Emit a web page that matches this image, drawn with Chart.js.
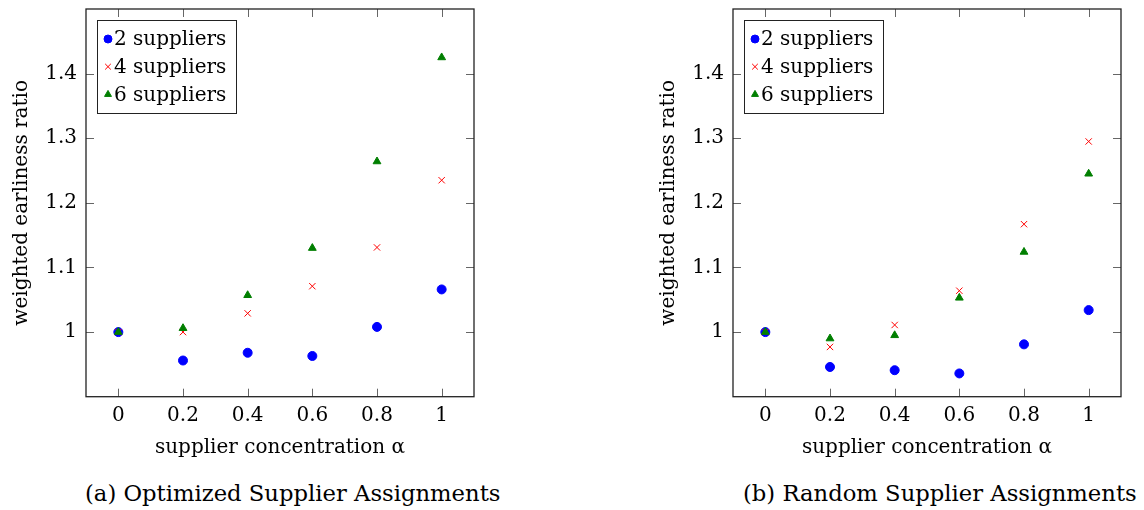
<!DOCTYPE html>
<html>
<head>
<meta charset="utf-8">
<script src="https://cdn.jsdelivr.net/npm/chart.js@4.4.0/dist/chart.umd.min.js"></script>
<style>
  body { margin: 0; background: #fff; width: 1144px; height: 510px; position: relative; overflow: hidden; }
  .plot { position: absolute; top: 0; width: 480px; height: 460px; }
  .caption { position: absolute; top: 480px; font: 22.7px "DejaVu Serif"; color: #000; white-space: nowrap; }
</style>
</head>
<body>
<div class="plot" style="left:0"><canvas id="chartA"></canvas></div>
<div class="plot" style="left:647px"><canvas id="chartB"></canvas></div>
<div class="caption" style="left:85px">(a) Optimized Supplier Assignments</div>
<div class="caption" style="left:743px">(b) Random Supplier Assignments</div>
<script>
// supplier concentration values
const alphas = [0, 0.2, 0.4, 0.6, 0.8, 1];
const seriesNames = ["2 suppliers", "4 suppliers", "6 suppliers"];

// (a) optimized assignments
const optTwo = [1.000, 0.956, 0.968, 0.963, 1.008, 1.066];
const optFour = [1.000, 1.000, 1.029, 1.071, 1.131, 1.235];
const optSix = [1.000, 1.006, 1.057, 1.130, 1.264, 1.425];

// (b) random assignments
const randTwo = [1.000, 0.946, 0.941, 0.936, 0.981, 1.034];
const randFour = [1.000, 0.977, 1.011, 1.064, 1.167, 1.295];
const randSix = [1.000, 0.990, 0.995, 1.053, 1.124, 1.245];

const xTicks = [0, 0.2, 0.4, 0.6, 0.8, 1];
const xTickLabels = ["0", "0.2", "0.4", "0.6", "0.8", "1"];
const yTicks = [1, 1.1, 1.2, 1.3, 1.4];
const yTickLabels = ["1", "1.1", "1.2", "1.3", "1.4"];

const font = { family: "DejaVu Serif", size: 20 };
const colors = ["#0000ff", "#ff0000", "#007f00"];
const styles = ["circle", "crossRot", "triangle"];
const radii = [4.5, 4.5, 4.5];

function marker(ctx, style, x, y, r, color) {
  ctx.save();
  ctx.fillStyle = color;
  ctx.strokeStyle = color;
  ctx.lineWidth = 1;
  ctx.beginPath();
  if (style === "circle") {
    ctx.arc(x, y, r, 0, Math.PI * 2);
    ctx.fill();
    ctx.stroke();
  } else if (style === "crossRot") {
    let d = r * Math.SQRT1_2;
    ctx.moveTo(x - d, y - d); ctx.lineTo(x + d, y + d);
    ctx.moveTo(x + d, y - d); ctx.lineTo(x - d, y + d);
    ctx.stroke();
  } else {
    for (let k = 0; k < 3; k++) {
      let a = k * 2 * Math.PI / 3;
      let px = x + Math.sin(a) * r, py = y - Math.cos(a) * r;
      if (k === 0) ctx.moveTo(px, py); else ctx.lineTo(px, py);
    }
    ctx.closePath();
    ctx.fill();
    ctx.stroke();
  }
  ctx.restore();
}

// box, inward ticks on all four sides and the legend
const framePlugin = {
  id: "frame",
  afterDatasetsDraw(chart) {
    const ctx = chart.ctx;
    const a = chart.chartArea;
    const xs = chart.scales.x, ys = chart.scales.y;
    const len = 8;
    ctx.save();
    ctx.strokeStyle = "#666";
    ctx.lineWidth = 1;
    ctx.beginPath();
    xs.ticks.forEach(t => {
      let px = Math.round(xs.getPixelForValue(t.value)) + 0.5;
      ctx.moveTo(px, a.bottom); ctx.lineTo(px, a.bottom - len);
      ctx.moveTo(px, a.top); ctx.lineTo(px, a.top + len);
    });
    ys.ticks.forEach(t => {
      let py = Math.round(ys.getPixelForValue(t.value)) + 0.5;
      ctx.moveTo(a.left, py); ctx.lineTo(a.left + len, py);
      ctx.moveTo(a.right, py); ctx.lineTo(a.right - len, py);
    });
    ctx.stroke();
    ctx.strokeStyle = "#222";
    ctx.lineWidth = 1.3;
    ctx.strokeRect(a.left, a.top, a.right - a.left, a.bottom - a.top);

    // legend
    const lx = a.left + 11, ly = a.top + 11;
    ctx.fillStyle = "#fff";
    ctx.fillRect(lx, ly, 139, 93);
    ctx.strokeStyle = "#222";
    ctx.lineWidth = 1;
    ctx.strokeRect(lx + 0.5, ly + 0.5, 139, 93);
    ctx.font = font.size + "px " + font.family;
    ctx.textBaseline = "middle";
    ctx.textAlign = "left";
    ctx.fillStyle = "#000";
    chart.data.datasets.forEach((ds, i) => {
      let cy = ly + 19 + i * 27.7;
      marker(ctx, styles[i], lx + 11, cy, 4, colors[i]);
      ctx.fillText(ds.label, lx + 17, cy + 1);
    });
    ctx.restore();
  }
};

function makeChart(id, two, four, six) {
  const values = [two, four, six];
  const datasets = values.map((vals, i) => ({
    label: seriesNames[i],
    data: alphas.map((x, j) => ({ x: x, y: vals[j] })),
    showLine: false,
    pointStyle: styles[i],
    pointRadius: radii[i],
    pointBorderWidth: 1,
    backgroundColor: colors[i],
    borderColor: colors[i],
    order: 2 - i
  }));

  return new Chart(document.getElementById(id), {
    type: "scatter",
    data: { datasets: datasets },
    options: {
      responsive: true,
      maintainAspectRatio: false,
      animation: false,
      events: [],
      layout: { padding: { top: 9, right: 6, left: 0, bottom: 0 } },
      plugins: { legend: { display: false }, tooltip: { enabled: false } },
      scales: {
        x: {
          type: "linear",
          min: -0.1,
          max: 1.1,
          grid: { display: false, drawTicks: false },
          border: { display: false },
          afterBuildTicks: s => { s.ticks = xTicks.map(v => ({ value: v })); },
          afterFit: s => { s.height = 63.3; s.paddingLeft = 0; s.paddingRight = 0; },
          ticks: {
            autoSkip: false,
            maxRotation: 0,
            padding: 7,
            color: "#000",
            font: font,
            callback: (v, i) => xTickLabels[i]
          },
          title: {
            display: true,
            text: "supplier concentration α",
            color: "#000",
            font: font,
            padding: { top: 3, bottom: 0 }
          }
        },
        y: {
          type: "linear",
          min: 0.9,
          max: 1.5,
          grid: { display: false, drawTicks: false },
          border: { display: false },
          afterBuildTicks: s => { s.ticks = yTicks.map(v => ({ value: v })); },
          afterFit: s => { s.width = 86; s.paddingTop = 0; s.paddingBottom = 0; },
          ticks: {
            autoSkip: false,
            padding: 9,
            color: "#000",
            font: font,
            callback: (v, i) => yTickLabels[i]
          },
          title: {
            display: true,
            text: "weighted earliness ratio",
            color: "#000",
            font: font,
            padding: { top: 10, bottom: 0 }
          }
        }
      }
    },
    plugins: [framePlugin]
  });
}

makeChart("chartA", optTwo, optFour, optSix);
makeChart("chartB", randTwo, randFour, randSix);
</script>
</body>
</html>
